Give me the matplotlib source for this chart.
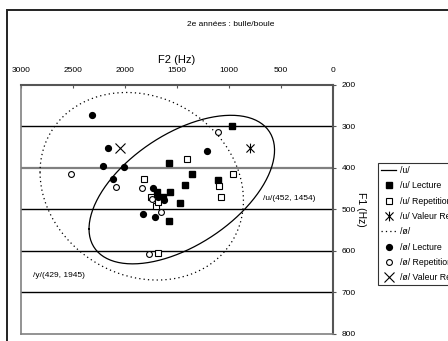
import numpy as np
import matplotlib
matplotlib.use("Agg")
import matplotlib.pyplot as plt
from matplotlib.path import Path
from matplotlib.patches import Rectangle

plt.rcParams['font.family'] = ['Liberation Sans', 'DejaVu Sans']

# formants (F2, F1) en Hz
u_lec_f2 = [968, 1577, 1359, 1423, 1567, 1471, 1103, 1577, 1695, 1638]
u_lec_f1 = [300, 387, 414, 441, 459, 485, 430, 528, 459, 469]
u_rep_f2 = [1407, 1817, 1096, 1080, 962, 1750, 1702, 1680, 1680]
u_rep_f1 = [379, 427, 443, 471, 414, 471, 491, 481, 604]
u_ref_f2 = [798]
u_ref_f1 = [353]

o_lec_f2 = [2320, 2160, 2214, 2010, 2118, 1734, 1824, 1709, 1622, 1214, 1680]
o_lec_f1 = [272, 351, 395, 397, 426, 449, 512, 519, 477, 359, 470]
o_rep_f2 = [2522, 2090, 1840, 1651, 1109, 1769, 1740]
o_rep_f1 = [415, 446, 449, 507, 314, 607, 475]
o_ref_f2 = [2048]
o_ref_f1 = [353]

# ellipses : centre (F2, F1), demi-axes, correlation
u_ell = (1454, 452, 892, 179, 0.53)
o_ell = (1839, 444, 978, 226, -0.15)

f2_ticks = [3000, 2500, 2000, 1500, 1000, 500, 0]
f1_ticks = [200, 300, 400, 500, 600, 700, 800]


def ellipse_pts(cx, cy, sx, sy, rho, n=200):
    t = np.linspace(0, 2 * np.pi, n)
    a = np.cos(t)
    b = np.sin(t)
    x = cx + sx * a
    y = cy + sy * (rho * a + np.sqrt(1 - rho ** 2) * b)
    return x, y


# asterisque (x + barre verticale)
star = Path([(-1, -1), (1, 1), (-1, 1), (1, -1), (0, -1.2), (0, 1.2)],
            [Path.MOVETO, Path.LINETO, Path.MOVETO, Path.LINETO,
             Path.MOVETO, Path.LINETO])

fig = plt.figure(figsize=(4.48, 3.41), dpi=100)
fig.patches.append(Rectangle((7 / 448, -0.1), 1.2, 1 - 10 / 341 + 0.1,
                             transform=fig.transFigure, fill=False,
                             edgecolor='#222222', lw=1.4))
ax = fig.add_axes([21 / 448, 1 - 334 / 341, 312 / 448, 249 / 341])

ax.set_xlim(3000, 0)
ax.set_ylim(800, 200)

for v in [300, 500, 600, 700]:
    ax.axhline(v, color='black', lw=1.0, zorder=1)
ax.axhline(400, color='#808080', lw=1.6, zorder=1)

ex, ey = ellipse_pts(*u_ell)
ln_u, = ax.plot(ex, ey, color='black', lw=0.9, label='/u/')
ex, ey = ellipse_pts(*o_ell)
ln_o, = ax.plot(ex, ey, color='black', lw=0.9, ls=(0, (1, 2.5)), label='/ø/')

ms = 4.2
h1, = ax.plot(u_lec_f2, u_lec_f1, 's', color='black', ms=ms, ls='none', label='/u/ Lecture')
h2, = ax.plot(u_rep_f2, u_rep_f1, 's', mfc='white', mec='black', mew=0.8, ms=ms, ls='none', label='/u/ Repetition')
h3, = ax.plot(u_ref_f2, u_ref_f1, marker=star, color='black', mew=0.8, ms=7, ls='none', label='/u/ Valeur Ref')
h4, = ax.plot(o_lec_f2, o_lec_f1, 'o', color='black', ms=ms, ls='none', label='/ø/ Lecture')
h5, = ax.plot(o_rep_f2, o_rep_f1, 'o', mfc='white', mec='black', mew=0.8, ms=ms, ls='none', label='/ø/ Repetition')
h6, = ax.plot(o_ref_f2, o_ref_f1, 'x', color='black', mew=0.8, ms=7, ls='none', label='/ø/ Valeur Ref')

ax.text(673, 473, '/u/(452, 1454)', fontsize=6, va='center', ha='left')
ax.text(2885, 660, '/y/(429, 1945)', fontsize=6, va='center', ha='left')

ax.xaxis.tick_top()
ax.yaxis.tick_right()
ax.set_xticks(f2_ticks)
ax.set_yticks(f1_ticks)
ax.tick_params(axis='x', direction='in', length=2.5, labelsize=6, pad=8, color='#555555')
ax.tick_params(axis='y', direction='out', length=2, labelsize=6, pad=4, color='#555555')
ax.set_xlabel('F2 (Hz)', fontsize=8)
ax.xaxis.set_label_position('top')
ax.xaxis.labelpad = 3
ax.set_ylabel('F1 (Hz)', fontsize=7.5, rotation=-90, va='center', ha='center')
ax.yaxis.set_label_position('right')
ax.yaxis.set_label_coords(1.105, 0.5)

for s in ['top', 'right']:
    ax.spines[s].set_color('#555555')
    ax.spines[s].set_linewidth(1.5)
for s in ['left', 'bottom']:
    ax.spines[s].set_color('#808080')
    ax.spines[s].set_linewidth(1.2)

fig.text(231 / 448, 1 - 24 / 341, '2e années : bulle/boule', fontsize=6, ha='center', va='center')

# la légende déborde à droite de la figure
leg = fig.legend(handles=[ln_u, h1, h2, h3, ln_o, h4, h5, h6],
                 loc='upper left', bbox_to_anchor=(378 / 448, 1 - 163 / 341),
                 fontsize=6.3, frameon=True, fancybox=False, borderpad=0.35,
                 labelspacing=0.72, handlelength=1.7, handletextpad=0.5,
                 borderaxespad=0)
leg.get_frame().set_edgecolor('black')
leg.get_frame().set_linewidth(0.8)

fig.savefig('out.png', dpi=100)
